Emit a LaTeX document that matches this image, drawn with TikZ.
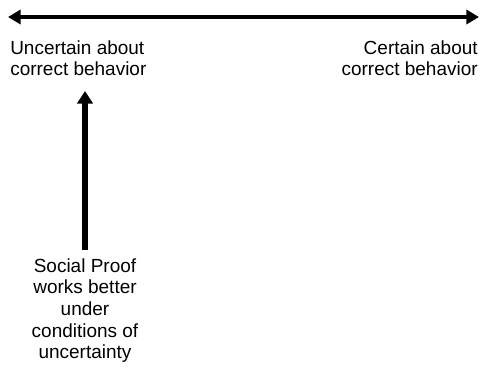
\documentclass[tikz,border=0pt]{standalone}
\usepackage{fontspec}
\setmainfont{Liberation Sans}
\usetikzlibrary{arrows.meta}

\begin{document}
\begin{tikzpicture}[x=0.025cm, y=-0.025cm, every node/.style={font=\fontsize{13.5}{15.4}\selectfont, inner sep=0pt}]
    \useasboundingbox (0,0) rectangle (480,370);
    % scale line
    \coordinate (lend) at (8,17);
    \coordinate (rend) at (479,17);
    \draw[line width=3.2pt, {Triangle[length=9pt,width=10pt]}-{Triangle[length=9pt,width=10pt]}](lend)--(rend);
    \node[anchor=north west, align=left](uncert)at (10,40){Uncertain about\\correct behavior};
    \node[anchor=north east, align=right](cert)at (478,40){Certain about\\correct behavior};
    % social proof
    \node[anchor=north, align=center](proof)at (85,258){Social Proof\\works better\\under\\conditions of\\uncertainty};
    \coordinate (tip) at (85,91);
    \draw[line width=4pt, -{Triangle[length=9pt,width=11pt]}](proof.north)++(0,-8)--(tip);
\end{tikzpicture}
\end{document}
